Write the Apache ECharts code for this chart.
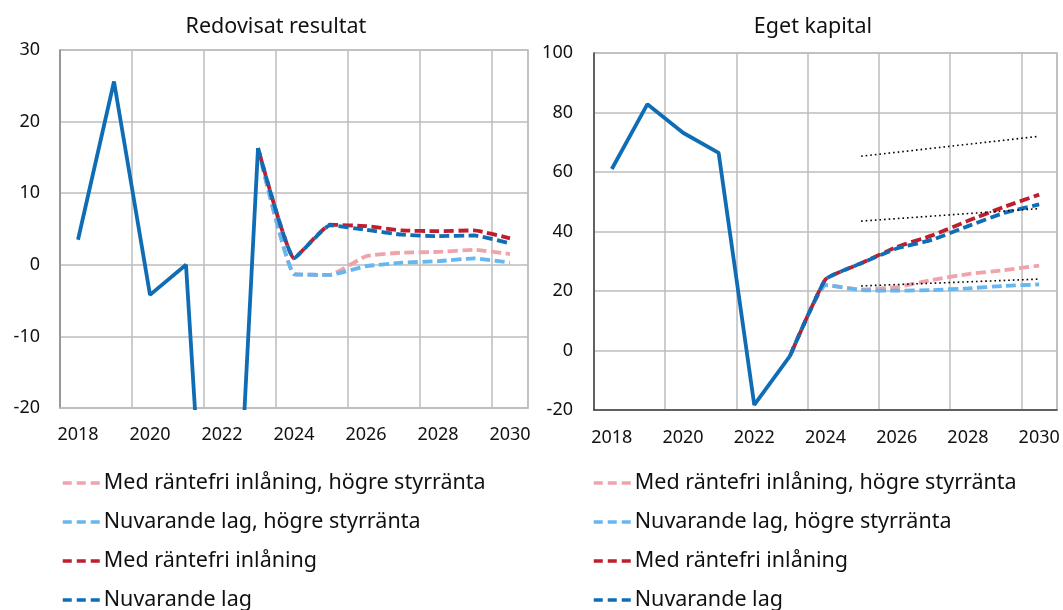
<!DOCTYPE html>
<html>
<head>
<meta charset="utf-8">
<script src="https://cdn.jsdelivr.net/npm/echarts@6/dist/echarts.min.js"></script>
<style>
    html, body { margin: 0; padding: 0; background: #fff; }
    #chart { width: 1063px; height: 610px; }
</style>
</head>
<body>
<div id="chart"></div>
<script>
// år på x-axeln
var years = ['2018', '2019', '2020', '2021', '2022', '2023', '2024', '2025', '2026', '2027', '2028', '2029', '2030'];

// Redovisat resultat (vänster)
var resUtfall = [3.5, 25.6, -4.2, 0, -81, 16.3, null, null, null, null, null, null, null];
var resMedHogre = [null, null, null, null, null, 16.3, -1.3, -1.4, 1.2, 1.7, 1.8, 2.1, 1.5];
var resNuvHogre = [null, null, null, null, null, 16.3, -1.3, -1.4, -0.2, 0.3, 0.5, 0.9, 0.3];
var resMed = [null, null, null, null, null, 16.3, 0.9, 5.6, 5.4, 4.8, 4.7, 4.8, 3.7];
var resNuv = [null, null, null, null, null, 16.3, 0.9, 5.5, 4.9, 4.2, 4.0, 4.1, 3.0];

// Eget kapital (höger)
var ekUtfall = [61, 82.8, 73.2, 66.4, -18.3, -1.9, null, null, null, null, null, null, null];
var ekMedHogre = [null, null, null, null, null, -1.9, 22, 20.5, 21.3, 23.7, 25.7, 27, 28.5];
var ekNuvHogre = [null, null, null, null, null, -1.9, 22, 20.3, 20.1, 20.3, 20.9, 21.7, 22.2];
var ekMed = [null, null, null, null, null, -1.9, 23.9, 29.3, 34.8, 38.7, 43.6, 48.2, 52.4];
var ekNuv = [null, null, null, null, null, -1.9, 23.9, 29.3, 34.3, 37.2, 41.8, 46.2, 49.1];
// prickade linjer (bara start- och slutpunkt)
var ekRef1 = [null, null, null, null, null, null, null, 65.3, null, null, null, null, 72.0];
var ekRef2 = [null, null, null, null, null, null, null, 43.5, null, null, null, null, 47.7];
var ekRef3 = [null, null, null, null, null, null, null, 21.7, null, null, null, null, 24.0];

var names = ['Med räntefri inlåning, högre styrränta', 'Nuvarande lag, högre styrränta', 'Med räntefri inlåning', 'Nuvarande lag'];

var FONT = 'Noto Sans';
var DARKBLUE = '#0F6DB5';
var RED = '#BE1E2D';
var PINK = '#F0A3AA';
var LIGHTBLUE = '#66B6F0';
var GRIDCOLOR = '#bdbdbd';

function xAxis(idx, lineColor, margin) {
    return {
        gridIndex: idx,
        type: 'category',
        data: years,
        boundaryGap: true,
        axisLine: { show: true, onZero: false, lineStyle: { color: lineColor, width: 1.5 } },
        axisTick: { show: false },
        axisLabel: { interval: 1, margin: margin, fontFamily: FONT, fontSize: 18, color: '#111' },
        splitLine: { show: true, interval: 1, lineStyle: { color: GRIDCOLOR, width: 1.5 } }
    };
}

function yAxis(idx, min, max, step, lineColor, margin) {
    return {
        gridIndex: idx,
        type: 'value',
        min: min,
        max: max,
        interval: step,
        axisLine: { show: true, onZero: false, lineStyle: { color: lineColor, width: 1.5 } },
        axisTick: { show: false },
        axisLabel: { margin: margin, fontFamily: FONT, fontSize: 18, color: '#111' },
        splitLine: { show: true, lineStyle: { color: GRIDCOLOR, width: 1.5 } }
    };
}

// en linje-serie
function line(name, idx, data, color, width, dash, offset) {
    return {
        name: name,
        type: 'line',
        xAxisIndex: idx,
        yAxisIndex: idx,
        data: data,
        symbol: 'none',
        smooth: dash ? 0.12 : false,
        connectNulls: false,
        lineStyle: { color: color, width: width, type: dash || 'solid', dashOffset: offset || 0, cap: 'butt' },
        itemStyle: { color: color },
        emphasis: { disabled: true }
    };
}

function refLine(data) {
    return {
        type: 'line',
        name: 'ref',
        xAxisIndex: 1,
        yAxisIndex: 1,
        data: data,
        symbol: 'none',
        connectNulls: true,
        lineStyle: { color: '#000', width: 1.6, type: [1.6, 3], cap: 'butt' },
        emphasis: { disabled: true }
    };
}

function legend(left) {
    return {
        data: names,
        orient: 'vertical',
        left: left,
        top: 467,
        height: 200,
        itemWidth: 40,
        itemHeight: 14,
        itemGap: 17,
        selectedMode: false,
        // dölj cirkeln, behåll den streckade linjen
        itemStyle: { opacity: 0 },
        lineStyle: { width: 3.5, type: [9, 5], dashOffset: 0, cap: 'butt' },
        textStyle: { fontFamily: FONT, fontSize: 21.5, color: '#111', lineHeight: 22, padding: [0, 0, 0, -4] }
    };
}

var DASH = [10, 4.5];
var W = 3.8;

var option = {
    animation: false,
    backgroundColor: '#fff',
    title: [
        { text: 'Redovisat resultat', left: 271, top: 11, textAlign: 'center',
          textStyle: { fontFamily: FONT, fontSize: 21.5, fontWeight: 'normal', color: '#111' } },
        { text: 'Eget kapital', left: 808, top: 11, textAlign: 'center',
          textStyle: { fontFamily: FONT, fontSize: 21.5, fontWeight: 'normal', color: '#111' } }
    ],
    grid: [
        { left: 60, top: 50, width: 468, height: 358, show: true, borderColor: GRIDCOLOR, borderWidth: 1.5, containLabel: false },
        { left: 594, top: 53, width: 463, height: 357, show: true, borderColor: GRIDCOLOR, borderWidth: 1.5, containLabel: false }
    ],
    xAxis: [xAxis(0, GRIDCOLOR, 18), xAxis(1, '#404040', 19)],
    yAxis: [yAxis(0, -20, 30, 10, '#8a8a8a', 20), yAxis(1, -20, 100, 20, '#404040', 21)],
    legend: [legend(56), legend(587)],
    series: [
        // vänster diagram
        line(names[0], 0, resMedHogre, PINK, W, DASH),
        line(names[1], 0, resNuvHogre, LIGHTBLUE, W, DASH),
        line(names[2], 0, resMed, RED, W, DASH, 10),
        line(names[3], 0, resNuv, DARKBLUE, W, DASH),
        line('Utfall', 0, resUtfall, DARKBLUE, W),
        // höger diagram
        line(names[0], 1, ekMedHogre, PINK, W, DASH),
        line(names[1], 1, ekNuvHogre, LIGHTBLUE, W, DASH),
        line(names[2], 1, ekMed, RED, W, DASH, 10),
        line(names[3], 1, ekNuv, DARKBLUE, W, DASH),
        line('Utfall', 1, ekUtfall, DARKBLUE, W),
        refLine(ekRef1),
        refLine(ekRef2),
        refLine(ekRef3)
    ]
};

var myChart = echarts.init(document.getElementById('chart'), null, { renderer: 'canvas' });
myChart.setOption(option);
</script>
</body>
</html>
